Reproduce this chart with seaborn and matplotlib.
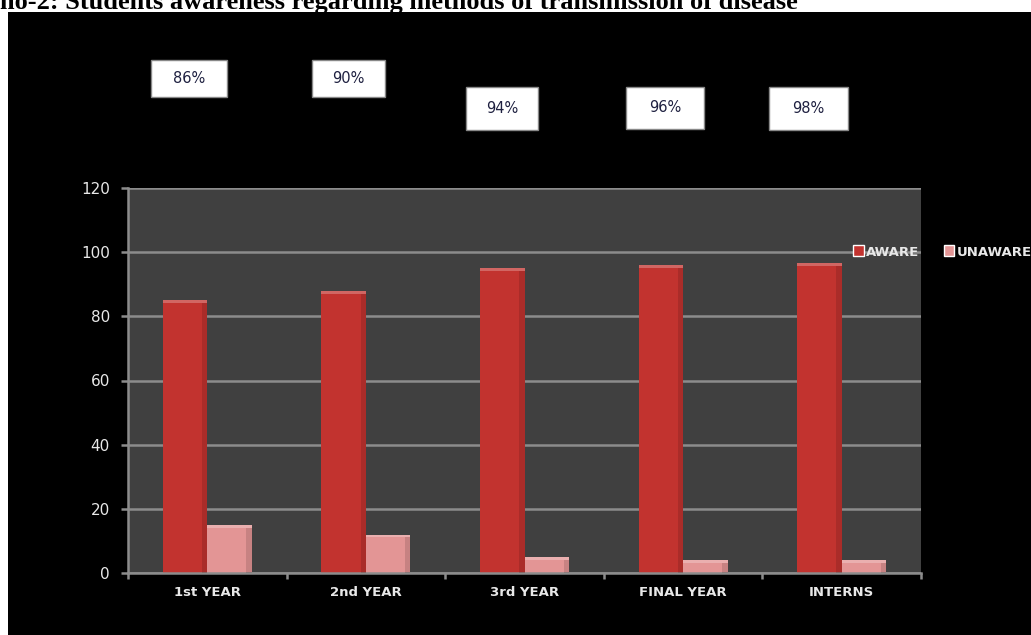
import matplotlib
matplotlib.use("Agg")
import matplotlib.pyplot as plt
from matplotlib.patches import Rectangle, Patch
import seaborn as sns
import pandas as pd

# ---- data ----
categories = ["1st YEAR", "2nd YEAR", "3rd YEAR", "FINAL YEAR", "INTERNS"]
aware = [85, 88, 95, 96, 96.5]
unaware = [15, 12, 5, 4, 4]
series_names = ["AWARE", "UNAWARE"]
percent_labels = ["86%", "90%", "94%", "96%", "98%"]
yticks = [0, 20, 40, 60, 80, 100, 120]
title = "no-2: Students awareness regarding methods of transmission of disease"

# layout for the percentage boxes (pixels: x0, x1, y0, y1 from top)
box_px = [(151, 227, 60, 97), (312, 385, 60, 97), (466, 538, 87, 130),
          (626, 704, 87, 129), (769, 848, 87, 130)]

colors = {"AWARE": "#C2332F", "UNAWARE": "#E39595"}

df = pd.DataFrame({
    "year": categories * 2,
    "value": aware + unaware,
    "status": [series_names[0]] * len(categories) + [series_names[1]] * len(categories),
})

sns.set_theme(style="white")
plt.rcParams["font.family"] = ["DejaVu Sans"]

W, H = 1031, 635
fig = plt.figure(figsize=(W / 100, H / 100), dpi=100, facecolor="white")

# black panel behind the chart
bg = fig.add_axes([8 / W, 0, 1 - 8 / W, (H - 12) / H])
bg.set_facecolor("black")
bg.set_xticks([])
bg.set_yticks([])
for s in bg.spines.values():
    s.set_visible(False)
bg.set_zorder(-5)

# cut-off title
fig.text(0.0, 1 - 9 / H, title, ha="left", va="baseline", fontsize=19,
         fontweight="bold", family="Liberation Serif", color="black")

ax = fig.add_axes([128 / W, (H - 573) / H, (921 - 128) / W, (573 - 188) / H])
ax.set_zorder(1)
ax.set_facecolor("#404040")

sns.barplot(data=df, x="year", y="value", hue="status", palette=colors,
            width=0.56, ax=ax, legend=False, saturation=1,
            edgecolor="none", linewidth=0)

# subtle highlight on bar tops and darker side shading
for p in list(ax.patches):
    h = p.get_height()
    if h > 0:
        ax.add_patch(Rectangle((p.get_x(), h - 0.9), p.get_width(), 0.9,
                               facecolor="white", alpha=0.25, edgecolor="none", zorder=3))
        ax.add_patch(Rectangle((p.get_x() + p.get_width() * 0.88, 0), p.get_width() * 0.12, h - 0.9,
                               facecolor="black", alpha=0.12, edgecolor="none", zorder=3))

ax.set_ylim(0, 120)
ax.set_xlim(-0.5, len(categories) - 0.5)
ax.set_yticks(yticks)
ax.set_yticklabels([str(t) for t in yticks], color="#E8E8E8", fontsize=11)
ax.yaxis.grid(True, color="#8C8C8C", linewidth=1.8)
ax.set_axisbelow(True)
ax.set_xlabel("")
ax.set_ylabel("")

for side in ["top", "right"]:
    ax.spines[side].set_visible(False)
for side in ["left", "bottom"]:
    ax.spines[side].set_color("#8C8C8C")
    ax.spines[side].set_linewidth(1.8)

ax.tick_params(axis="y", which="major", direction="out", length=5, width=1.8,
               color="#8C8C8C", pad=8, left=True)
ax.set_xticks(range(len(categories)))
ax.set_xticklabels(categories, color="#E8E8E8", fontsize=9.5, fontweight="bold")
ax.tick_params(axis="x", which="major", length=0, pad=9)
ax.set_xticks([i - 0.5 for i in range(len(categories) + 1)], minor=True)
ax.tick_params(axis="x", which="minor", direction="out", length=4, width=1.8,
               color="#8C8C8C", bottom=True)

# legend
handles = [Patch(facecolor=colors[n], edgecolor="white", linewidth=1.0) for n in series_names]
leg = ax.legend(handles, series_names, loc="center left",
                bbox_to_anchor=(853 / W, 1 - 252 / H), bbox_transform=fig.transFigure,
                ncol=2, frameon=False, handlelength=0.7, handleheight=0.7,
                handletextpad=0.15, columnspacing=1.6, borderaxespad=0, borderpad=0)
for t in leg.get_texts():
    t.set_color("#E8E8E8")
    t.set_fontweight("bold")
    t.set_fontsize(9.5)

# percentage boxes
for (x0, x1, y0, y1), lab in zip(box_px, percent_labels):
    fig.patches.append(Rectangle((x0 / W, 1 - y1 / H), (x1 - x0) / W, (y1 - y0) / H,
                                 transform=fig.transFigure, facecolor="white",
                                 edgecolor="#888888", linewidth=1.0, zorder=2))
    fig.text((x0 + x1) / 2 / W, 1 - (y0 + y1) / 2 / H, lab, ha="center", va="center",
             fontsize=10.5, color="#1E2040", zorder=3)

fig.savefig("out.png", dpi=100, facecolor="white")
